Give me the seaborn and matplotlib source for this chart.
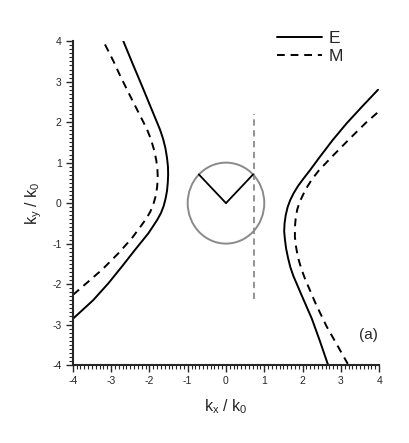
import numpy as np
import pandas as pd
import matplotlib
matplotlib.use("Agg")
import matplotlib.pyplot as plt
from matplotlib.patches import Circle
from matplotlib.lines import Line2D
import seaborn as sns

# ---- data (kx/k0, ky/k0) ----
e_left_kx = [-2.68, -2.44, -2.20, -1.96, -1.72, -1.64, -1.58, -1.54, -1.515, -1.51, -1.52,
             -1.54, -1.58, -1.63, -1.70, -1.80, -1.91, -2.03, -2.38, -2.72, -3.07, -3.47, -4.00]
e_left_ky = [4.00, 3.45, 2.91, 2.36, 1.81, 1.58, 1.35, 1.12, 0.90, 0.70, 0.50,
             0.30, 0.10, -0.08, -0.25, -0.42, -0.58, -0.75, -1.16, -1.57, -1.98, -2.40, -2.86]

e_right_kx = [3.97, 3.55, 3.15, 2.78, 2.45, 2.20, 2.02, 1.88, 1.77, 1.68, 1.61, 1.56,
              1.53, 1.52, 1.54, 1.57, 1.62, 1.68, 1.76, 2.00, 2.24, 2.45, 2.66]
e_right_ky = [2.80, 2.38, 1.97, 1.55, 1.14, 0.82, 0.60, 0.42, 0.25, 0.08, -0.10, -0.30,
              -0.50, -0.70, -0.90, -1.12, -1.35, -1.58, -1.80, -2.33, -2.85, -3.40, -3.98]

m_left_kx = [-3.16, -2.94, -2.77, -2.52, -2.29, -2.07, -1.96, -1.88, -1.82, -1.79, -1.78,
             -1.80, -1.84, -1.90, -1.98, -2.08, -2.20, -2.46, -2.81, -3.22, -3.62, -4.00]
m_left_ky = [3.92, 3.51, 3.16, 2.68, 2.25, 1.84, 1.58, 1.32, 1.06, 0.82, 0.60,
             0.38, 0.16, -0.04, -0.22, -0.38, -0.54, -0.87, -1.24, -1.63, -1.96, -2.27]

m_right_kx = [3.95, 3.67, 3.24, 2.76, 2.42, 2.24, 2.12, 2.02, 1.93, 1.86, 1.82, 1.80,
              1.80, 1.83, 1.88, 1.96, 2.06, 2.35, 2.63, 2.90, 3.18]
m_right_ky = [2.23, 2.00, 1.60, 1.14, 0.80, 0.58, 0.40, 0.22, 0.04, -0.16, -0.38, -0.60,
              -0.84, -1.08, -1.34, -1.60, -1.86, -2.50, -3.05, -3.50, -3.97]

light_cone_radius = 1.0
wave_angles_deg = [135, 45]
kx_incident = 0.72
incident_ymin, incident_ymax = -2.36, 2.21

rows = []
for branch, mode, xs, ys in [("E_left", "E", e_left_kx, e_left_ky),
                             ("E_right", "E", e_right_kx, e_right_ky),
                             ("M_left", "M", m_left_kx, m_left_ky),
                             ("M_right", "M", m_right_kx, m_right_ky)]:
    for x, y in zip(xs, ys):
        rows.append({"branch": branch, "mode": mode, "kx": x, "ky": y})
df = pd.DataFrame(rows)

sns.set_style("ticks")
plt.rcParams["font.family"] = ["Liberation Sans", "DejaVu Sans"]
plt.rcParams["mathtext.default"] = "regular"
plt.rcParams["axes.unicode_minus"] = False

fig = plt.figure(figsize=(4.09, 4.43), dpi=100)
ax = fig.add_axes([0.178, 0.176, 0.749, 0.731])

# light circle + vertical dashed line + wave vectors
ax.add_patch(Circle((0, 0), light_cone_radius, fill=False, ec="#8a8a8a", lw=1.4, zorder=2))
ax.vlines(kx_incident, incident_ymin, incident_ymax, colors="#8a8a8a",
          linestyles=(0, (3.5, 2.5)), lw=1.3, zorder=3)
for ang in wave_angles_deg:
    a = np.deg2rad(ang)
    ax.plot([0, light_cone_radius * np.cos(a)], [0, light_cone_radius * np.sin(a)],
            color="black", lw=1.3, zorder=4)

sns.lineplot(data=df, x="kx", y="ky", units="branch", style="mode", estimator=None,
             sort=False, color="black", dashes={"E": "", "M": (4, 3)}, linewidth=1.4,
             legend=False, ax=ax)

ax.set_xlim(-4, 4)
ax.set_ylim(-4, 4)
ax.set_xticks(range(-4, 5))
ax.set_yticks(range(-4, 5))
ax.set_xticks(np.arange(-4, 4.01, 0.1), minor=True)
ax.set_yticks(np.arange(-4, 4.01, 0.1), minor=True)
ax.tick_params(which="major", direction="out", length=5, width=1, labelsize=7.5, pad=3)
ax.tick_params(which="minor", direction="out", length=3, width=0.8)
sns.despine(ax=ax)
for s in ["left", "bottom"]:
    ax.spines[s].set_linewidth(1.5)

ax.set_xlabel(r"k$_x$ / k$_0$", fontsize=11.5, labelpad=8)
ax.set_ylabel(r"k$_y$ / k$_0$", fontsize=11.5, labelpad=6)

ax.text(3.97, -3.27, "(a)", ha="right", va="center", fontsize=11)

handles = [Line2D([], [], color="black", lw=1.4),
           Line2D([], [], color="black", lw=1.4, dashes=(4, 3))]
fig.legend(handles, ["E", "M"], loc="upper left", bbox_to_anchor=(268 / 409, 1 - 22 / 443),
           frameon=False, fontsize=12.5, handlelength=2.6, handletextpad=0.4,
           labelspacing=0.2, borderpad=0)

fig.savefig("out.png", dpi=100)
